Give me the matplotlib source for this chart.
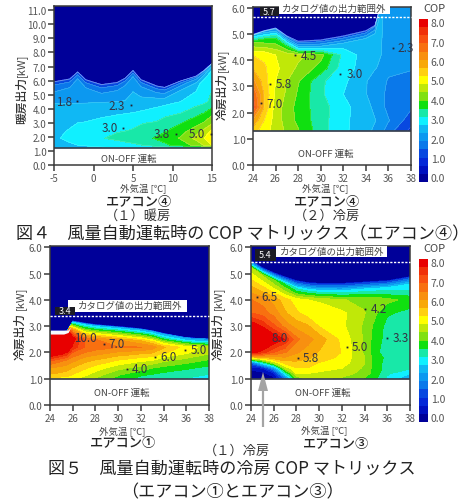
import numpy as np
import matplotlib
matplotlib.use("Agg")
import matplotlib.pyplot as plt

plt.rcParams['font.family'] = ['Noto Sans CJK JP', 'DejaVu Sans']
W, H = 474, 502
INK = '#3a3a3a'

levels = [-.24, .18, .6, 1.02, 1.44, 1.86, 2.28, 2.7, 3.12, 3.54, 3.96, 4.38, 4.8, 5.22, 5.64, 6.06, 6.48, 6.9, 7.32, 7.74, 8.16]
band_colors = ['#000099', '#0010c0', '#0528d8', '#0848e0', '#0a78ea', '#0c98f0', '#10b8f4', '#10f0ff',
               '#18e8a8', '#10e010', '#80e010', '#c0e808', '#ffff00', '#ffd010', '#f8a808', '#f89010',
               '#f87010', '#f85010', '#f03008', '#e80000']

# Panel A: heating, air conditioner 4
a_x = [-5, -3, -2, -1, 1, 3, 4, 5, 6, 8, 9, 11, 13, 14, 15]
a_top = [5.9, 6.1, 6.6, 6.05, 5.7, 5.85, 6.15, 6.7, 6.05, 5.6, 5.5, 5.95, 6.3, 6.7, 7.2]
a_rows = [1.2, 1.4, 1.9, 2.4, 3.0, 3.6, 4.2, 4.5]
a_offs = [-.7, -.25, 0, .04]
a_cop = [
    [2.2, 2.4, 2.45, 2.5, 2.6, 2.65, 2.7, 2.7, 2.75, 2.8, 2.85, 2.9, 3.0, 3.0, 3.1],
    [2.4, 2.6, 2.7, 2.75, 2.85, 2.95, 3.0, 3.05, 3.1, 3.3, 3.45, 3.7, 4.1, 4.4, 4.8],
    [2.6, 2.85, 2.95, 3.0, 3.1, 3.2, 3.25, 3.3, 3.35, 3.6, 3.7, 4.0, 4.5, 4.8, 5.2],
    [2.55, 2.75, 2.8, 2.9, 3.0, 3.1, 3.12, 3.15, 3.2, 3.4, 3.5, 3.8, 4.2, 4.5, 4.9],
    [2.5, 2.6, 2.7, 2.72, 2.85, 3.0, 3.05, 3.05, 3.1, 3.15, 3.25, 3.5, 3.8, 4.0, 4.3],
    [2.45, 2.5, 2.52, 2.55, 2.6, 2.68, 2.72, 2.75, 2.8, 2.95, 3.05, 3.15, 3.45, 3.6, 3.9],
    [2.32, 2.33, 2.33, 2.34, 2.38, 2.42, 2.45, 2.5, 2.55, 2.65, 2.72, 2.9, 3.1, 3.2, 3.45],
    [2.25, 2.25, 2.25, 2.25, 2.26, 2.28, 2.3, 2.35, 2.4, 2.5, 2.55, 2.7, 2.9, 3.05, 3.2],
    [1.85, 1.95, 2.15, 2.0, 1.95, 2.0, 2.05, 2.2, 2.1, 2.15, 2.2, 2.35, 2.6, 2.8, 3.0],
    [1.5, 1.55, 1.6, 1.55, 1.5, 1.55, 1.6, 1.65, 1.6, 1.6, 1.65, 1.75, 2.0, 2.2, 2.4],
    [1.0, 1.0, 1.0, 1.0, 1.0, 1.0, 1.0, 1.0, 1.0, 1.0, 1.0, 1.1, 1.2, 1.4, 1.8],
    [0.0] * 15,
]

# Panel B: cooling, air conditioner 4
b_x = [24, 25, 26, 27, 28, 30, 32, 34, 34.8, 35.2, 36, 38]
b_top = [4.95, 5.1, 5.2, 4.9, 4.7, 4.75, 4.9, 5.1, 5.3, 5.9, 6.1, 6.1]
b_rows = [1.3, 1.7, 2.2, 2.7, 3.2, 3.7, 4.2]
b_offs = [-.3, 0, .04]
b_cop = [
    [5.4, 5.0, 4.6, 4.3, 4.0, 3.3, 2.8, 2.4, 2.2, 2.1, 1.6, 0.9],
    [6.0, 5.2, 4.6, 4.2, 3.85, 3.3, 2.8, 2.45, 2.3, 2.2, 1.9, 1.2],
    [7.2, 5.6, 4.6, 4.2, 3.8, 3.3, 2.85, 2.4, 2.2, 2.1, 1.7, 1.5],
    [6.9, 5.6, 4.7, 4.3, 3.9, 3.2, 2.7, 2.3, 2.1, 2.0, 1.75, 1.6],
    [6.2, 5.4, 4.8, 4.4, 4.0, 3.2, 2.8, 2.3, 2.15, 2.1, 1.8, 1.7],
    [5.6, 5.3, 4.9, 4.6, 4.3, 3.8, 2.9, 2.5, 2.3, 2.25, 2.0, 1.9],
    [5.2, 5.1, 4.8, 4.6, 4.5, 4.1, 3.0, 2.5, 2.4, 2.3, 2.2, 2.1],
    [4.0, 3.6, 3.4, 3.3, 3.0, 2.7, 2.5, 2.4, 2.3, 2.3, 2.25, 2.2],
    [2.4, 2.0, 1.8, 1.4, 1.2, 1.2, 1.2, 1.2, 1.4, 1.9, 2.1, 2.0],
    [0.0] * 12,
]

# Panel C: cooling, air conditioner 1
c_x = [24, 25, 25.5, 26, 27, 28, 30, 32, 33, 34, 36, 38]
c_top = [2.72, 2.72, 2.78, 3.15, 3.08, 3.02, 2.95, 2.87, 2.8, 2.7, 2.55, 2.5]
c_rows = [1.0, 1.15, 1.4, 1.7, 2.0, 2.2]
c_fracs = [.35, .7, 1, 1.06]
c_cop = [
    [5.0, 5.0, 5.0, 4.9, 4.6, 4.3, 3.8, 3.4, 3.3, 3.2, 3.1, 3.0],
    [5.6, 5.5, 5.4, 5.2, 4.9, 4.6, 4.0, 3.6, 3.5, 3.4, 3.25, 3.1],
    [6.0, 5.9, 5.8, 5.6, 5.3, 5.0, 4.5, 4.2, 3.95, 3.8, 3.6, 3.4],
    [7.0, 6.6, 6.4, 6.2, 5.8, 5.6, 5.2, 4.9, 4.8, 4.5, 4.2, 3.9],
    [8.5, 8.1, 7.7, 6.9, 6.5, 6.3, 6.0, 5.8, 5.7, 5.3, 4.9, 4.5],
    [9.0, 9.0, 8.5, 7.6, 6.9, 6.7, 6.5, 6.5, 6.3, 5.7, 5.0, 4.6],
    [10.0, 10.0, 10.0, 8.0, 6.9, 6.5, 6.1, 5.7, 5.3, 4.6, 4.0, 3.6],
    [10.0, 10.0, 9.5, 6.0, 4.6, 4.4, 4.2, 3.9, 3.7, 3.2, 2.8, 2.6],
    [9.0, 9.0, 8.0, 2.6, 2.5, 2.4, 2.3, 2.2, 2.2, 2.2, 2.1, 2.0],
    [0.0] * 12,
]
c_strip_x = [24, 25.2, 25.6, 25.8]
c_strip_low = [2.7, 2.7, 2.76, 2.95]
c_strip_high = [2.85, 2.85, 2.86, 2.96]

# Panel D: cooling, air conditioner 3
d_x = [24, 25, 26, 27, 28, 29, 30, 32, 34, 35, 36, 38]
d_top = [5.45, 5.2, 5.0, 4.85, 4.7, 4.63, 4.6, 4.6, 4.65, 4.68, 4.7, 4.85]
d_rows = [1.0, 1.2, 1.4, 1.6, 1.8, 2.0, 2.5, 3.0, 3.5, 4.0]
d_offs = [-.25, 0, .04]
d_cop = [
    [0, 0, 0, 1.5, 4.0, 4.5, 4.4, 4.3, 3.9, 3.6, 3.0, 2.3],
    [0, 0, 0.5, 3.0, 4.8, 4.8, 4.7, 4.6, 4.2, 3.7, 3.2, 2.7],
    [0.3, 0.6, 2.0, 4.5, 5.2, 5.2, 5.0, 4.8, 4.3, 3.7, 3.4, 3.2],
    [1.5, 3.0, 4.4, 5.4, 5.5, 5.4, 5.2, 5.0, 4.4, 3.7, 3.4, 3.4],
    [5.2, 5.5, 5.9, 6.0, 5.9, 5.7, 5.5, 5.1, 4.4, 3.7, 3.45, 3.4],
    [8.0, 7.5, 6.9, 6.5, 6.1, 5.9, 5.6, 5.2, 4.3, 3.6, 3.4, 3.35],
    [9.5, 9.0, 8.2, 7.7, 6.6, 6.2, 5.9, 5.1, 4.3, 3.7, 3.4, 3.3],
    [8.2, 7.7, 7.0, 6.3, 5.9, 5.7, 5.2, 4.9, 4.3, 3.8, 3.4, 3.3],
    [6.9, 6.7, 6.3, 5.7, 5.3, 5.0, 5.2, 4.9, 4.4, 4.0, 3.6, 3.4],
    [6.5, 6.3, 5.9, 5.4, 5.0, 4.8, 4.7, 4.4, 4.3, 4.3, 4.1, 3.8],
    [4.5, 4.3, 4.0, 3.5, 3.0, 2.9, 2.8, 2.7, 2.8, 2.8, 2.8, 2.7],
    [1.5, 1.2, 1.2, 1.0, 1.0, 1.0, 1.0, 1.0, 1.0, 1.0, 1.0, 1.2],
    [0.0] * 12,
]

x_ticks_cool = [24, 26, 28, 30, 32, 34, 36, 38]
x_ticks_heat = [-5, 0, 5, 10, 15]
y_ticks_cool = [0, 1, 2, 3, 4, 5, 6]
y_ticks_heat = list(range(12))
cbar_ticks = [0, 1, 2, 3, 4, 5, 6, 7, 8]

fig = plt.figure(figsize=(W / 100, H / 100), dpi=100, facecolor='white')


def axes_px(left, top, right, bottom, **kw):
    return fig.add_axes([left / W, 1 - bottom / H, (right - left) / W, (bottom - top) / H], **kw)


def panel(box, x, top, Y_rows, cop, floor, xlim, ylim, xt, yt, xfmt, lines=True):
    ax = axes_px(*box)
    ax.set_facecolor('#000099')
    x = np.array(x, float)
    X = np.tile(x, (len(Y_rows), 1))
    Y = np.array(Y_rows, float)
    Z = np.array(cop, float)
    ax.contourf(X, Y, Z, levels=levels + [40], colors=band_colors + ['#e80000'])
    if lines:
        ax.contour(X, Y, Z, levels=levels[1:], colors='white', linewidths=.3, alpha=.35)
    ax.axhspan(0, floor, color='white', zorder=3)
    ax.axhline(floor, color='#303848', lw=1.2, zorder=4)
    ax.set_xlim(*xlim)
    ax.set_ylim(*ylim)
    ax.set_xticks(xt)
    ax.set_xticklabels([xfmt % v for v in xt])
    ax.set_yticks(yt)
    ax.set_yticklabels(['%.1f' % v for v in yt])
    ax.tick_params(length=4, width=1.1, color=INK, labelcolor='#555555', labelsize=7, pad=1.5)
    for s in ax.spines.values():
        s.set_color(INK)
        s.set_linewidth(1.1)
        s.set_zorder(6)
    return ax


def abs_rows(rows, top, offs):
    top = np.array(top, float)
    return [np.full_like(top, r) for r in rows] + [top + o for o in offs]


panel((54, 7, 212, 166), a_x, a_top, abs_rows(a_rows, a_top, a_offs), a_cop, 1.2,
      (-5, 15), (0, 11.3), x_ticks_heat, y_ticks_heat, '%d')
panel((253, 8, 411, 166), b_x, b_top, abs_rows(b_rows, b_top, b_offs), b_cop, 1.3,
      (24, 38), (0, 6.03), x_ticks_cool, y_ticks_cool, '%d')
c_top_arr = np.array(c_top, float)
c_Y = [np.full_like(c_top_arr, r) for r in c_rows] + [c_rows[-1] + (c_top_arr - c_rows[-1]) * f for f in c_fracs]
ax_c = panel((50, 247, 209, 406), c_x, c_top, c_Y, c_cop, 1.0,
             (24, 38), (0, 6.05), x_ticks_cool, y_ticks_cool, '%d', lines=False)
ax_c.fill_between(c_strip_x, c_strip_low, c_strip_high, color='#f4fbff', zorder=2, lw=0)
panel((251, 247, 410, 406), d_x, d_top, abs_rows(d_rows, d_top, d_offs), d_cop, 1.0,
      (24, 38), (0, 6.05), x_ticks_cool, y_ticks_cool, '%d', lines=False)


def colorbar(top_px, bottom_px):
    cax = axes_px(419, top_px, 428, bottom_px)
    for lo, hi, col in zip(levels[:-1], levels[1:], band_colors):
        cax.axhspan(lo, hi, color=col, lw=0)
    cax.set_ylim(levels[0], levels[-1])
    cax.set_xticks([])
    cax.yaxis.tick_right()
    cax.set_yticks(cbar_ticks)
    cax.set_yticklabels(['%.1f' % v for v in cbar_ticks])
    cax.tick_params(length=0, labelcolor='#555555', labelsize=7.5, pad=2)
    for s in cax.spines.values():
        s.set_visible(False)


colorbar(20, 183)
colorbar(260, 423)

ov = fig.add_axes([0, 0, 1, 1], facecolor='none', zorder=20)
ov.set_xlim(0, W)
ov.set_ylim(H, 0)
ov.axis('off')


def t(px, py, s, size=7, color='#444444', weight='normal', rot=0):
    ov.text(px, py, s, fontsize=size, color=color, fontweight=weight, rotation=rot,
            ha='center', va='center')


def dotlab(dx, tx, py, s):
    if dx is not None:
        ov.plot([dx], [py], 's', ms=1.3, mew=0, color='#223')
    t(tx, py, s, size=8.4, color='#334')


for args in [(77, 64, 102, '1.8'), (131, 117, 106, '2.3'), (123, 110, 129, '3.0'),
             (176, 162, 135, '3.8'), (211, 197, 135, '5.0'),
             (295, 309, 56, '4.5'), (270, 284, 85, '5.8'), (261, 275, 104, '7.0'),
             (340, 355, 75, '3.0'), (393, 406, 49, '2.3'),
             (None, 85, 339, '10.0'), (104, 117, 345, '7.0'), (155, 169, 358, '6.0'),
             (185, 199, 351, '5.0'), (127, 140, 370, '4.0'),
             (257, 270, 298, '6.5'), (None, 280, 339, '8.0'), (298, 311, 359, '5.8'),
             (347, 360, 348, '5.0'), (365, 379, 310, '4.2'), (387, 401, 339, '3.3')]:
    dotlab(*args)

# out-of-range markers
for (wb, kb, yd, xd, tx, ty, val, vx, vy) in [
        ((279, 5, 390, 15), (260, 8, 279, 17), 18, (253, 411), 334, 9.5, '5.7', 269, 12.5),
        ((68, 301, 187, 313), (55, 308, 75, 316), 317, (50, 209), 130, 306, '3.4', 65, 312),
        ((276, 247, 387, 258), (255, 250, 276, 262), 263, (251, 410), 332, 252, '5.4', 265, 256)]:
    ov.fill([wb[0], wb[2], wb[2], wb[0]], [wb[1], wb[1], wb[3], wb[3]], color='white', lw=0)
    ov.fill([kb[0], kb[2], kb[2], kb[0]], [kb[1], kb[1], kb[3], kb[3]], color='#1c1c24', lw=0)
    ov.plot(xd, [yd, yd], color='white', lw=1, ls=(0, (1.6, 1.1)))
    t(tx, ty, 'カタログ値の出力範囲外', size=6.8)
    t(vx, vy, val, size=6.5, color='white')

for x, y in [(129, 159), (326, 154), (122, 393), (323, 393)]:
    t(x, y, 'ON-OFF 運転', size=6.8)
for x, y in [(143, 189), (325, 189), (122, 432), (324, 431)]:
    t(x, y, '外気温 [℃]', size=6.8)

for x, y, s in [(139, 202, 'エアコン④'), (327, 202, 'エアコン④'), (123, 443, 'エアコン①'), (336, 444, 'エアコン③')]:
    t(x, y, s, size=9.5, color='#222222', weight='medium')
t(138, 216, '（１）暖房', size=9.5, color='#333333')
t(327, 216, '（２）冷房', size=9.5, color='#333333')
t(237, 451, '（１）冷房', size=9.5, color='#333333')

t(243, 234, '図４　風量自動運転時の COP マトリックス（エアコン④）', size=12.3, color='#222222')
t(232, 469, '図５　風量自動運転時の冷房 COP マトリックス', size=12.3, color='#222222')
t(232, 492, '（エアコン①とエアコン③）', size=12.3, color='#222222')

for x, y1, y2, s in [(21, 101, 65, '暖房出力'), (222, 96, 60, '冷房出力'), (20, 337, 298, '冷房出力'), (218, 337, 298, '冷房出力')]:
    t(x, y1, s, size=8.5, color='#333333', weight='medium', rot=90)
    t(x, y2, '[kW]', size=8, rot=90)

for y, s in [(9, 'COP'), (249, 'COP')]:
    t(434, y, s, size=8)

# grey arrow in panel D
ov.plot([263, 263], [428, 385], color='#a4a4a4', lw=1.6, solid_capstyle='butt')
ov.fill([263, 258, 268], [373, 392, 392], color='#a4a4a4', lw=0)

fig.savefig('out.png', dpi=100)
